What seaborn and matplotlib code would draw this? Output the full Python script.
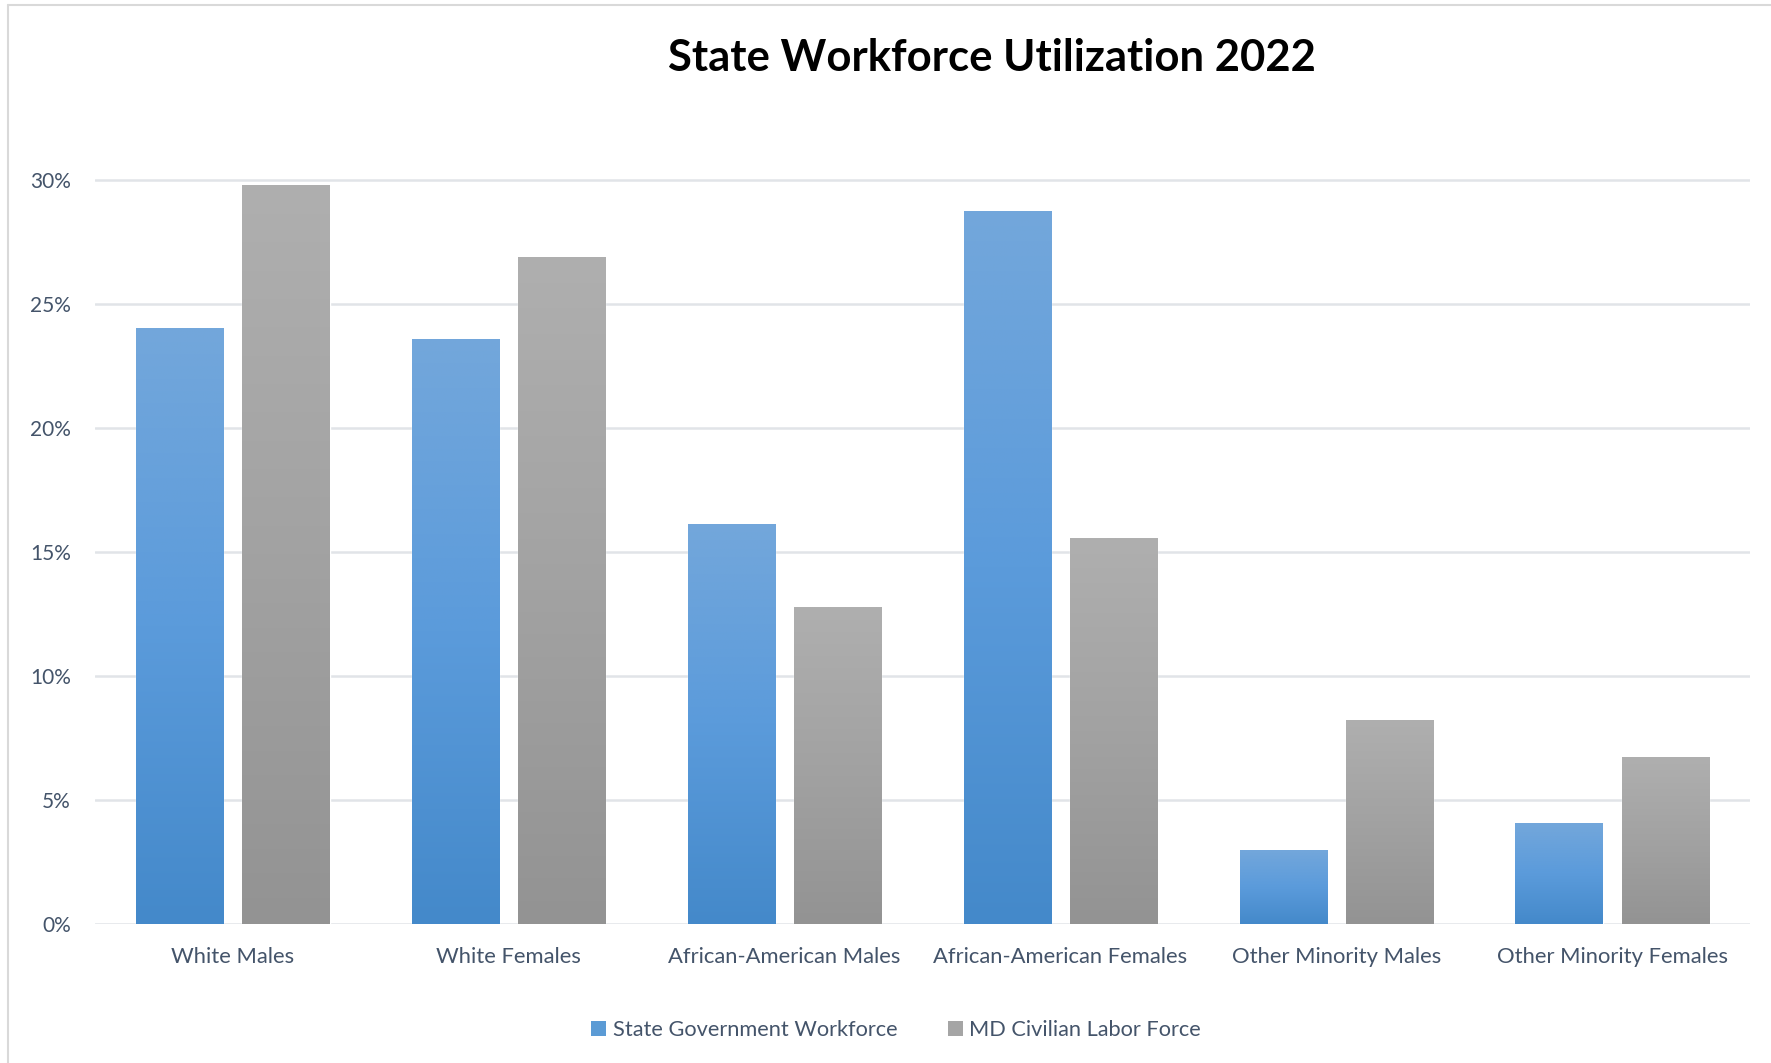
import numpy as np
import pandas as pd
import matplotlib
matplotlib.use("Agg")
import matplotlib.pyplot as plt
import seaborn as sns
from matplotlib.ticker import PercentFormatter, MultipleLocator
from matplotlib.colors import LinearSegmentedColormap, to_hex
from matplotlib.patches import Patch
from matplotlib.lines import Line2D

# ---------------- data ----------------
categories = ["White Males", "White Females", "African-American Males",
              "African-American Females", "Other Minority Males",
              "Other Minority Females"]
state_gov = [0.2403, 0.2359, 0.1614, 0.2877, 0.0298, 0.0407]
md_civilian = [0.2980, 0.2690, 0.1277, 0.1555, 0.0823, 0.0673]
series_names = ["State Government Workforce", "MD Civilian Labor Force"]
title = "State Workforce Utilization 2022"

df = pd.DataFrame({
    "Category": categories * 2,
    "Share": state_gov + md_civilian,
    "Series": [series_names[0]] * len(categories) + [series_names[1]] * len(categories),
})

# ---------------- style ----------------
sns.set_theme(style="white")
plt.rcParams["font.family"] = ["Lato", "DejaVu Sans"]

base_colors = ["#5B9BD5", "#A5A5A5"]
grad_cmaps = [
    LinearSegmentedColormap.from_list("blue", ["#4489CA", "#5B9BDB", "#73A7DB"]),
    LinearSegmentedColormap.from_list("gray", ["#939393", "#A2A2A2", "#AFAFAF"]),
]
text_color = "#44546A"

W, H = 1771, 1063
fig = plt.figure(figsize=(W / 100, H / 100), dpi=100)
fig.patch.set_facecolor("white")

y_top = 0.31
ax_bottom_px = 924
px_per_unit = 124 / 0.05
ax_top_px = ax_bottom_px - y_top * px_per_unit
ax = fig.add_axes([95 / W, (H - ax_bottom_px) / H, 1655 / W, (ax_bottom_px - ax_top_px) / H])

sns.barplot(data=df, x="Category", y="Share", hue="Series", order=categories,
            hue_order=series_names, palette=base_colors, width=0.77, gap=0.18,
            saturation=1, legend=False, ax=ax)

# gradient fill per bar
grad = np.linspace(0, 1, 256).reshape(-1, 1)
for p in list(ax.patches):
    fc = to_hex(p.get_facecolor()).upper()
    idx = 0 if fc == base_colors[0].upper() else 1
    x0, w = p.get_x(), p.get_width()
    y0, h = p.get_y(), p.get_height()
    im = ax.imshow(grad, extent=[x0, x0 + w, y0, y0 + h], origin="lower",
                   aspect="auto", cmap=grad_cmaps[idx], zorder=p.get_zorder() + 0.1,
                   interpolation="bilinear")
    im.set_clip_path(p)

ax.set_xlim(-0.5, len(categories) - 0.5)
ax.set_ylim(0, y_top)
ax.set_aspect("auto")

ax.yaxis.set_major_locator(MultipleLocator(0.05))
ax.yaxis.set_major_formatter(PercentFormatter(1.0, decimals=0))
ax.yaxis.grid(True, color="#E1E4E8", linewidth=1.8)
ax.xaxis.grid(False)
ax.set_axisbelow(True)
for s in ax.spines.values():
    s.set_visible(False)
ax.set_xlabel("")
ax.set_ylabel("")
ax.tick_params(axis="y", length=0, pad=17.5, labelsize=15, labelcolor=text_color)
ax.tick_params(axis="x", length=0, pad=16.5, labelsize=15.8, labelcolor=text_color)

# title
fig.text(992 / W, 1 - 58 / H, title, ha="center", va="center",
         fontsize=31.4, fontweight="bold", color="black")

# legend
handles = [Patch(facecolor=c, edgecolor="none") for c in base_colors]
fig.legend(handles, series_names, loc="center", bbox_to_anchor=(896 / W, 1 - 1030 / H),
           ncol=2, frameon=False, fontsize=15.7, handlelength=0.7, handleheight=0.7,
           handletextpad=0.3, columnspacing=2.3, labelcolor=text_color)

# chart-area border (top & left visible)
fig.add_artist(Line2D([8 / W, 8 / W], [0, 1 - 5 / H], transform=fig.transFigure,
                      color="#D9D9D9", linewidth=1.5))
fig.add_artist(Line2D([8 / W, 1], [1 - 5 / H, 1 - 5 / H], transform=fig.transFigure,
                      color="#D9D9D9", linewidth=1.5))

fig.savefig("out.png", dpi=100)
